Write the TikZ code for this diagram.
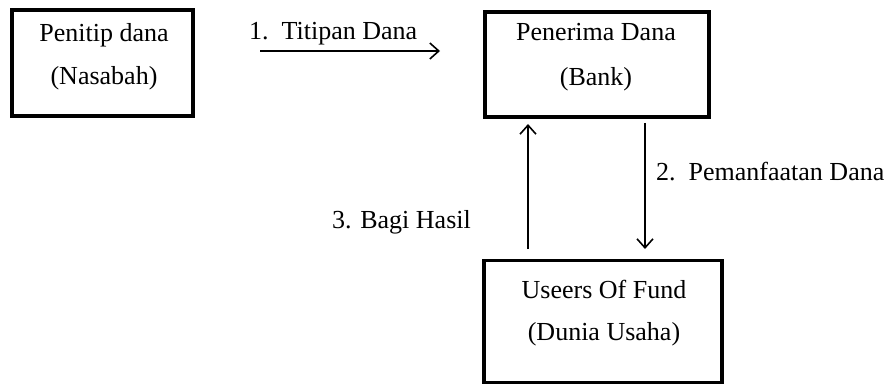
\documentclass[tikz,border=0pt]{standalone}
\usepackage{fontspec}
\setmainfont{Liberation Serif}
\usetikzlibrary{arrows.meta,calc}

\tikzset{
  party/.style={draw=black, line width=3.2pt, fill=white, inner sep=0pt},
  lbl/.style={anchor=base, inner sep=0pt, font=\fontsize{26}{30}\selectfont},
  flow/.style={line width=1.6pt, -{Straight Barb[length=9pt,width=16pt,line width=1.6pt]}}
}

\begin{document}
\begin{tikzpicture}[x=1pt, y=-1pt]
  \useasboundingbox (0,0) rectangle (892,385);

  % the three parties
  \node[party, minimum width=181pt, minimum height=106pt] (nasabah) at (102.5,63) {};
  \node[party, minimum width=224pt, minimum height=105pt] (bank) at (597,64.5) {};
  \node[party, minimum width=238pt, minimum height=122pt] (usaha) at (603,321.5) {};

  % their captions
  \node[lbl] (t1a) at (104,42) {Penitip dana};
  \node[lbl] (t1b) at (104,85) {(Nasabah)};
  \node[lbl] (t2a) at (596,41) {Penerima Dana};
  \node[lbl] (t2b) at (596,86) {(Bank)};
  \node[lbl] (t3a) at (604,298) {Useers Of Fund};
  \node[lbl] (t3b) at (604,340) {(Dunia Usaha)};

  % flow of funds
  \coordinate (a1s) at (260,51);
  \coordinate (a1e) at (440,51);
  \draw[flow] (a1s) -- (a1e);
  \node[lbl, anchor=base west] (l1) at (249,40) {1.\ \ Titipan Dana};

  \coordinate (a2s) at (645,123);
  \coordinate (a2e) at (645,249);
  \draw[flow] (a2s) -- (a2e);
  \node[lbl, anchor=base west] (l2) at (656,181) {2.\ \ Pemanfaatan Dana};

  \coordinate (a3s) at (528,249);
  \coordinate (a3e) at (528,124);
  \draw[flow] (a3s) -- (a3e);
  \node[lbl, anchor=base west] (l3) at (332,228) {3. Bagi Hasil};
\end{tikzpicture}
\end{document}
